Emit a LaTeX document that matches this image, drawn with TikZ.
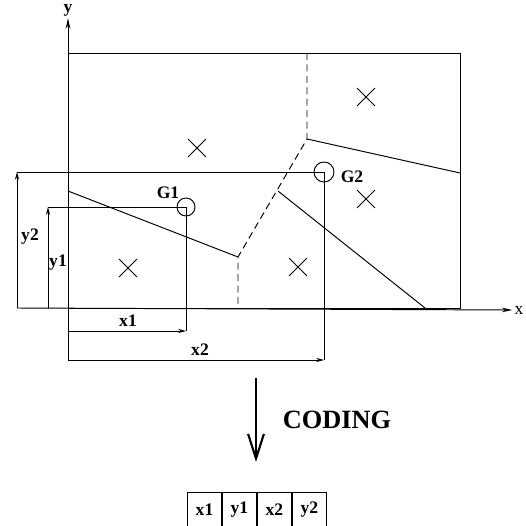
\documentclass[tikz,border=0pt]{standalone}
\usepackage{fontspec}
\setmainfont{Liberation Serif}
\usetikzlibrary{arrows.meta,positioning,shapes.misc}

\begin{document}
\begin{tikzpicture}[x=0.02cm,y=-0.02cm,line width=0.55pt]
    \tikzset{
    lbl/.style={font=\fontsize{10}{11}\selectfont\bfseries, inner sep=0pt},
    seed/.style={draw, cross out, minimum size=0.34cm, inner sep=0pt},
    dim/.style={-{Stealth[length=4.5pt,width=2.4pt]}},
    cell/.style={draw, minimum width=0.68cm, minimum height=0.72cm, inner sep=0pt,
        font=\fontsize{10}{11}\selectfont\bfseries}
    }
    \useasboundingbox (0,0) rectangle (525,526);
    \clip (0,0) rectangle (525,526);

        % axes
        \coordinate (xs) at (17,308);
        \coordinate (ys) at (68,360);
        \node (xl)[font=\fontsize{10}{11}\selectfont, inner sep=1pt] at (519,310) {x};
        \node (yl)[font=\fontsize{10}{11}\selectfont\bfseries, inner sep=1pt] at (68,10) {y};
        \draw[-{Stealth[length=6pt,width=2.6pt]}] (xs) -- (xl.west);
        \draw[-{Stealth[length=6pt,width=2.6pt]}] (ys) -- (yl.south);

        % region and borders
        \draw (68,308) rectangle (460,53);
        \coordinate (a) at (307,53);
        \coordinate (b) at (307,139);
        \coordinate (c) at (238,257);
        \coordinate (d) at (238,308);
        \coordinate (e) at (460,173);
        \coordinate (f) at (68,191);
        \coordinate (g) at (278,191);
        \coordinate (h) at (425,308);
        \draw[dashed, dash pattern=on 4pt off 2.5pt] (a) -- (b) -- (c) -- (d);
        \draw (b) -- (e);
        \draw (f) -- (c);
        \draw (g) -- (h);

        % cluster centres
        \node (s1)[seed] at (197,148) {};
        \node (s2)[seed] at (366,97) {};
        \node (s3)[seed] at (366,199) {};
        \node (s4)[seed] at (298,267) {};
        \node (s5)[seed] at (128,268) {};

        % the two points
        \node (G1)[draw, circle, minimum size=0.36cm, inner sep=0pt] at (186,207) {};
        \node (G2)[draw, circle, minimum size=0.4cm, inner sep=0pt] at (324,172) {};
        \node (g1l)[lbl] at (168,193) {G1};
        \node (g2l)[lbl] at (352,177) {G2};

        % co-ordinates of G1
        \coordinate (y1b) at (48,308);
        \coordinate (y1t) at (48,207);
        \coordinate (x1l) at (68,331);
        \coordinate (x1r) at (186,331);
        \draw[dim] (y1b) -- (y1t);
        \draw (y1t) -- (G1.center) -- (x1r);
        \draw[dim] (x1l) -- (x1r);
        \node (y1)[lbl] at (58,263) {y1};
        \node (x1)[lbl] at (128,321) {x1};

        % co-ordinates of G2
        \coordinate (y2b) at (17,308);
        \coordinate (y2t) at (17,172);
        \coordinate (x2l) at (68,360);
        \coordinate (x2r) at (324,360);
        \draw[dim] (y2b) -- (y2t);
        \draw (y2t) -- (G2.center) -- (x2r);
        \draw[dim] (x2l) -- (x2r);
        \node (y2)[lbl] at (30,237) {y2};
        \node (x2)[lbl] at (200,350) {x2};

        % coding
        \coordinate (ct) at (256,378);
        \coordinate (cb) at (256,462);
        \draw[line width=1.2pt, -{Straight Barb[length=14pt,width=9pt,line width=1.2pt]}] (ct) -- (cb);
        \node (cod)[font=\fontsize{15}{16}\selectfont\bfseries] at (337,420) {CODING};

        % code string
        \node (c1)[cell] at (204.5,510) {x1};
        \node (c2)[cell, right=0pt of c1] {y1};
        \node (c3)[cell, right=0pt of c2] {x2};
        \node (c4)[cell, right=0pt of c3] {y2};

    \end{tikzpicture}
\end{document}
